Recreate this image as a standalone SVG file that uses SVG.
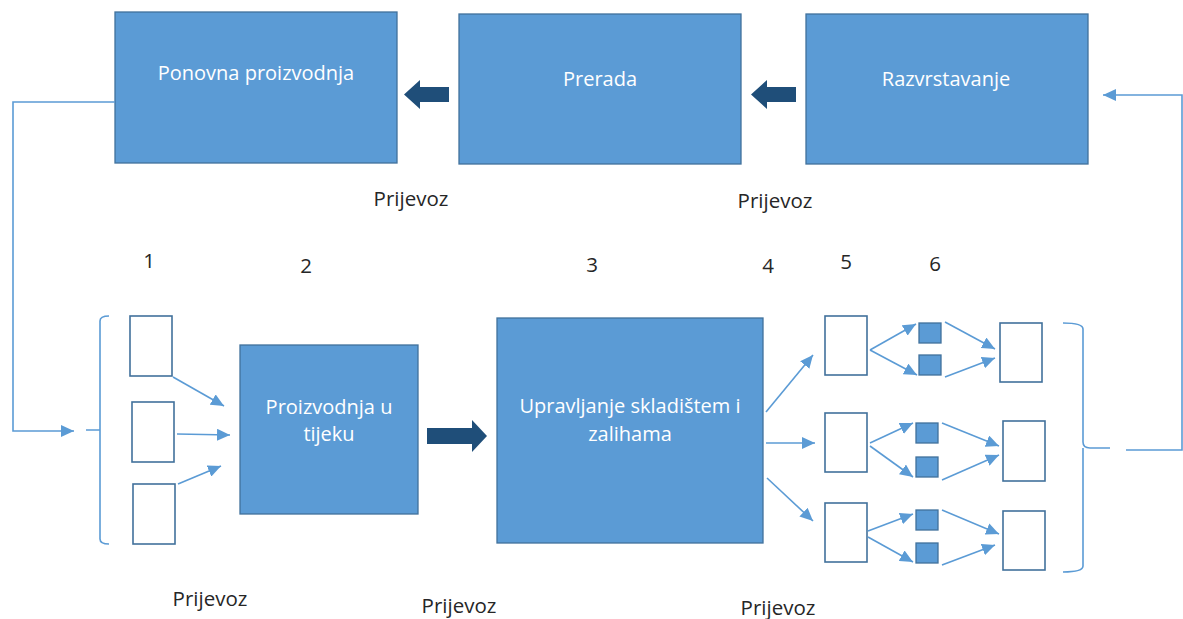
<svg xmlns="http://www.w3.org/2000/svg" width="1183" height="619" viewBox="0 0 1183 619">
<style>
.box{fill:#5B9BD5;stroke:#41719C;stroke-width:1.3}
.wbox{fill:#FFFFFF;stroke:#41719C;stroke-width:1.6}
.sq{fill:#5B9BD5;stroke:#41719C;stroke-width:1.3}
.ln{fill:none;stroke:#5B9BD5;stroke-width:1.6}
.ar{fill:none;stroke:#5B9BD5;stroke-width:1.6;marker-end:url(#ah)}
.fat{fill:#1F4E79}
.wt{font-family:"Open Sans","DejaVu Sans",sans-serif;font-size:20px;fill:#FFFFFF;text-anchor:middle}
.bt{font-family:"Open Sans","DejaVu Sans",sans-serif;font-size:20.5px;fill:#262626;text-anchor:middle}
</style>
<defs>
<marker id="ah" markerUnits="userSpaceOnUse" markerWidth="14" markerHeight="12" refX="13" refY="6" orient="auto">
<path d="M0,0 L13,6 L0,12 Z" fill="#5B9BD5"/>
</marker>
</defs>
<rect width="1183" height="619" fill="#FFFFFF"/>

<g id="ponovna"><rect class="box" x="115" y="12" width="282" height="151"/><text class="wt" x="256" y="80">Ponovna proizvodnja</text></g>
<g id="prerada"><rect class="box" x="459" y="14" width="282" height="150"/><text class="wt" x="600" y="86">Prerada</text></g>
<g id="razvrstavanje"><rect class="box" x="806" y="14" width="282" height="150"/><text class="wt" x="946" y="86">Razvrstavanje</text></g>
<g id="proizvodnja"><rect class="box" x="240" y="345" width="178" height="169"/><text class="wt" x="329" y="414">Proizvodnja u</text><text class="wt" x="329" y="441">tijeku</text></g>
<g id="upravljanje"><rect class="box" x="497" y="318" width="266" height="225"/><text class="wt" x="630" y="413">Upravljanje skladištem i</text><text class="wt" x="630" y="441">zalihama</text></g>

<g id="col1">
<rect class="wbox" x="130" y="316" width="42" height="60"/>
<rect class="wbox" x="132" y="402" width="42" height="60"/>
<rect class="wbox" x="133" y="484" width="42" height="60"/>
</g>
<g id="col5">
<rect class="wbox" x="825" y="316" width="42" height="59"/>
<rect class="wbox" x="825" y="413" width="42" height="59"/>
<rect class="wbox" x="825" y="503" width="42" height="59"/>
</g>
<g id="col6">
<rect class="sq" x="919" y="323" width="22" height="20"/>
<rect class="sq" x="919" y="355" width="22" height="20"/>
<rect class="sq" x="916" y="423" width="22" height="20"/>
<rect class="sq" x="916" y="457" width="22" height="20"/>
<rect class="sq" x="916" y="510" width="22" height="20"/>
<rect class="sq" x="916" y="543" width="22" height="20"/>
</g>
<g id="col7">
<rect class="wbox" x="1000" y="323" width="42" height="59"/>
<rect class="wbox" x="1003" y="421" width="42" height="60"/>
<rect class="wbox" x="1003" y="511" width="42" height="59"/>
</g>

<g id="connectors">
<path class="fat" d="M449,87 H420 V80 L404,94.5 L420,109 V102 H449 Z"/>
<path class="fat" d="M796,87 H767 V80 L751,94.5 L767,109 V102 H796 Z"/>
<path class="fat" d="M427,428 H472 V420 L487,436 L472,452 V444 H427 Z"/>

<path class="ar" d="M115,102 H13 V431 H74"/>
<path class="ln" d="M109,316 Q100,316 100,321 V539 Q100,544 109,544 M86,430 H100"/>
<path class="ar" d="M173,377 L224,406"/>
<path class="ar" d="M177,434 L230,435"/>
<path class="ar" d="M178,484 L221,466"/>

<path class="ar" d="M766,412 L813,355"/>
<path class="ar" d="M766,443 L815,443"/>
<path class="ar" d="M767,478 L813,521"/>

<path class="ar" d="M870,350 L916,324"/>
<path class="ar" d="M870,350 L917,375"/>
<path class="ar" d="M870,443 L913,423"/>
<path class="ar" d="M870,446 L913,477"/>
<path class="ar" d="M868,531 L913,514"/>
<path class="ar" d="M868,537 L913,562"/>

<path class="ar" d="M945,322 L995,349"/>
<path class="ar" d="M945,377 L995,358"/>
<path class="ar" d="M942,423 L999,446"/>
<path class="ar" d="M942,480 L999,455"/>
<path class="ar" d="M942,510 L999,534"/>
<path class="ar" d="M942,565 L995,545"/>

<path class="ln" d="M1063,323 Q1083,323 1083,329 V442 Q1083,448 1090,448 H1110 M1083,448 V566 Q1083,572 1063,572"/>
<path class="ar" d="M1126,450 H1182 V95 H1103"/>
</g>

<g id="labels">
<text class="bt" x="411" y="206">Prijevoz</text>
<text class="bt" x="775" y="208">Prijevoz</text>
<text class="bt" x="210" y="606">Prijevoz</text>
<text class="bt" x="459" y="613">Prijevoz</text>
<text class="bt" x="778" y="615">Prijevoz</text>
<text class="bt" x="149" y="268">1</text>
<text class="bt" x="306" y="273">2</text>
<text class="bt" x="592" y="272">3</text>
<text class="bt" x="768" y="273">4</text>
<text class="bt" x="846" y="269">5</text>
<text class="bt" x="935" y="271">6</text>
</g>
</svg>
